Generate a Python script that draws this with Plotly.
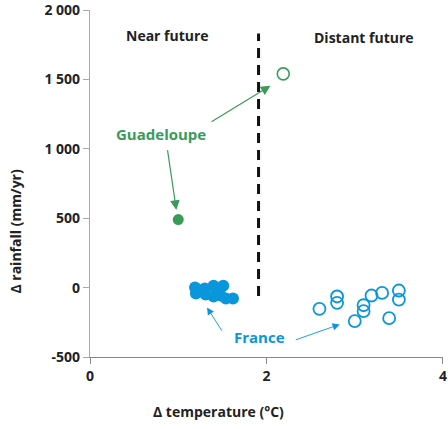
import plotly.graph_objects as go

# near future (filled) and distant future (open) projections
guad_near_dt = [1.0]
guad_near_dr = [490]
guad_far_dt = [2.19]
guad_far_dr = [1540]

france_near_dt = [1.19, 1.20, 1.30, 1.31, 1.40, 1.40, 1.51, 1.48, 1.54, 1.62, 1.45]
france_near_dr = [0, -43, -7, -50, 14, -64, 14, -57, -79, -79, -30]
france_far_dt = [2.60, 2.80, 2.80, 3.00, 3.10, 3.10, 3.19, 3.31, 3.39, 3.50, 3.50]
france_far_dr = [-153, -64, -110, -241, -170, -127, -57, -38, -220, -21, -86]

y_ticks = [-500, 0, 500, 1000, 1500, 2000]
y_labels = ["-500", "0", "500", "1 000", "1 500", "2 000"]
x_ticks = [0, 2, 4]

GREEN = "#3a9b58"
BLUE = "#0a96db"
FONT = "Open Sans"

fig = go.Figure()

fig.add_trace(go.Scatter(x=france_near_dt, y=france_near_dr, mode="markers", cliponaxis=False,
                         marker=dict(size=12, color=BLUE, line=dict(width=0))))
fig.add_trace(go.Scatter(x=france_far_dt, y=france_far_dr, mode="markers", cliponaxis=False,
                         marker=dict(size=12, color="rgba(0,0,0,0)", line=dict(width=1.8, color=BLUE))))
fig.add_trace(go.Scatter(x=guad_near_dt, y=guad_near_dr, mode="markers", cliponaxis=False,
                         marker=dict(size=11, color=GREEN, line=dict(width=0))))
fig.add_trace(go.Scatter(x=guad_far_dt, y=guad_far_dr, mode="markers", cliponaxis=False,
                         marker=dict(size=12, color="rgba(0,0,0,0)", line=dict(width=1.6, color=GREEN))))

# divider between near and distant future
fig.add_shape(type="line", x0=1.91, x1=1.91, y0=-60, y1=1830, xref="x", yref="y",
              line=dict(color="#111", width=3, dash="10px,7px"))

def label(x, y, text, color, size=14):
    fig.add_annotation(x=x, y=y, text="<b>%s</b>" % text, showarrow=False,
                       font=dict(family=FONT, size=size, color=color))

def arrow(x0, y0, x1, y1, color, width=1.2):
    fig.add_annotation(x=x1, y=y1, ax=x0, ay=y0, xref="x", yref="y", axref="x", ayref="y",
                       text="", showarrow=True, arrowhead=2, arrowsize=1.6,
                       arrowwidth=width, arrowcolor=color)

label(0.876, 1820, "Near future", "#222")
label(3.11, 1805, "Distant future", "#222")
label(0.81, 1110, "Guadeloupe", GREEN, 15)
label(1.92, -358, "France", BLUE, 15)

arrow(0.876, 1002, 0.978, 560, GREEN)
arrow(1.36, 1189, 2.045, 1454, GREEN)
arrow(1.506, -322, 1.326, -143, BLUE, 0.9)
arrow(2.315, -380, 2.83, -265, BLUE, 0.9)

# axis titles placed in paper space
fig.add_annotation(x=0.365, y=-0.158, xref="paper", yref="paper", showarrow=False,
                   xanchor="center", yanchor="middle",
                   text="<b>Δ temperature (°C)</b>", font=dict(family=FONT, size=14, color="#222"))
fig.add_annotation(x=-0.21, y=0.364, xref="paper", yref="paper", showarrow=False, textangle=-90,
                   xanchor="center", yanchor="middle",
                   text="<b>Δ rainfall (mm/yr)</b>", font=dict(family=FONT, size=14, color="#222"))

fig.update_layout(
    width=448, height=429,
    margin=dict(l=90, r=5, t=10, b=72),
    plot_bgcolor="white", paper_bgcolor="white",
    showlegend=False,
    font=dict(family=FONT, size=14, color="#222"),
)
fig.update_xaxes(range=[0, 4.0001], tickvals=x_ticks, showgrid=False, zeroline=False,
                 showline=True, linecolor="#888", linewidth=1.2, automargin=False,
                 ticks="outside", ticklen=6, tickcolor="#888", tickwidth=1.2,
                 ticklabeloverflow="allow",
                 tickfont=dict(family=FONT, size=14, color="#222", weight="bold"))
fig.update_yaxes(range=[-500, 2000.2], tickvals=y_ticks, ticktext=y_labels, showgrid=False,
                 zeroline=False, showline=True, linecolor="#aaa", linewidth=1.2, automargin=False,
                 ticks="outside", ticklen=6, tickcolor="#aaa", tickwidth=1.2,
                 ticklabeloverflow="allow",
                 tickfont=dict(family=FONT, size=14, color="#222", weight="bold"))

# drop the default page margin so the figure sits at the window origin
fig.write_html("out.html", config={"displayModeBar": False},
               post_script="document.body.style.margin='0';")
